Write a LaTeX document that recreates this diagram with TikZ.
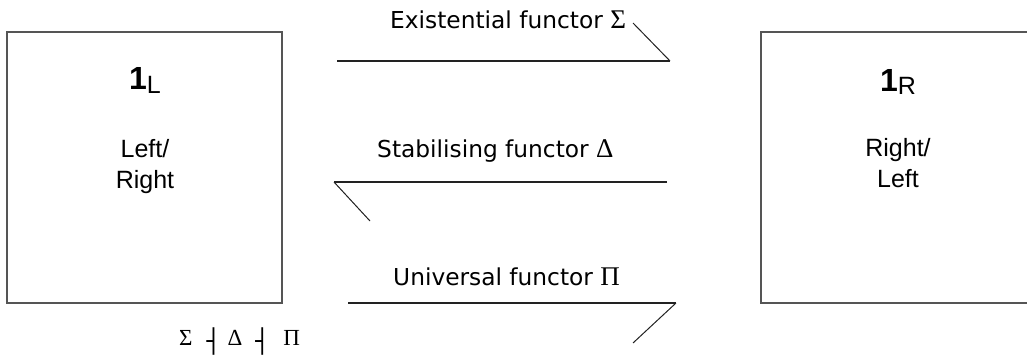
\documentclass[tikz,border=0pt]{standalone}
\usepackage{fontspec}
\setmainfont{Liberation Sans}
\newfontfamily\lblfont{DejaVu Sans}
\newfontfamily\grkfont{Liberation Serif}
\newfontfamily\symfont{DejaVu Sans}
\definecolor{boxgray}{HTML}{555555}
\definecolor{linedark}{HTML}{222222}
\tikzset{
  boxstyle/.style={draw=boxgray, line width=1.6pt, minimum width=275pt, minimum height=271pt, inner sep=0pt},
  titlestyle/.style={anchor=base, inner sep=0pt},
  descstyle/.style={anchor=base, inner sep=0pt, align=center, font=\fontsize{25}{32}\selectfont},
  arrowlabel/.style={anchor=base west, inner sep=0pt, font=\lblfont\fontsize{23.3}{27}\selectfont},
  shaft/.style={draw=linedark, line width=1.5pt},
  barb/.style={draw=linedark, line width=1pt},
}
\newcommand{\grk}[1]{{\grkfont\fontsize{27}{27}\selectfont #1}}
\newcommand{\adjbar}{\raisebox{-4.5pt}{\symfont\bfseries\fontsize{23.2}{24}\selectfont ┤}}
\begin{document}
\begin{tikzpicture}[x=1pt,y=-1pt]
\useasboundingbox (0,0) rectangle (1027,358);
\clip (0,0) rectangle (1027,358);
% boxes
\node[boxstyle] (boxL) at (144.5,167.5) {};
\node[boxstyle] (boxR) at (898.5,167.5) {};
% box texts
\node[titlestyle] (titleL) at (145,90) {{\fontsize{32}{32}\selectfont\bfseries 1}{\fontsize{25}{25}\selectfont\raisebox{-4pt}{L}}};
\node[titlestyle] (titleR) at (898,92) {{\fontsize{32}{32}\selectfont\bfseries 1}{\fontsize{25}{25}\selectfont\raisebox{-3pt}{R}}};
\node[descstyle] (descL) at (145,189) {Left/\\Right};
\node[descstyle] (descR) at (898,188) {Right/\\Left};
% arrows
\coordinate (s1) at (337,61);
\coordinate (t1) at (670,61);
\coordinate (b1) at (633,23);
\coordinate (s2) at (667,182);
\coordinate (t2) at (334,182);
\coordinate (b2) at (370,221);
\coordinate (s3) at (348,303);
\coordinate (t3) at (676,303);
\coordinate (b3) at (633,343);
\draw[shaft] (s1) -- (t1);
\draw[barb] (t1) -- (b1);
\draw[shaft] (s2) -- (t2);
\draw[barb] (t2) -- (b2);
\draw[shaft] (s3) -- (t3);
\draw[barb] (t3) -- (b3);
% arrow labels
\node[arrowlabel] (lab1) at (390,29) {Existential functor \grk{Σ}};
\node[arrowlabel] (lab2) at (377,158) {Stabilising functor \grk{Δ}};
\node[arrowlabel] (lab3) at (393,285) {Universal functor \grk{Π}};
% adjunction
\node[anchor=base west, inner sep=0pt] (adj) at (179,345) {\grkfont\fontsize{23}{24}\selectfont Σ\hspace{14pt}\adjbar\hspace{7pt}Δ\hspace{13pt}\adjbar\hspace{14pt}Π};
\end{tikzpicture}
\end{document}
